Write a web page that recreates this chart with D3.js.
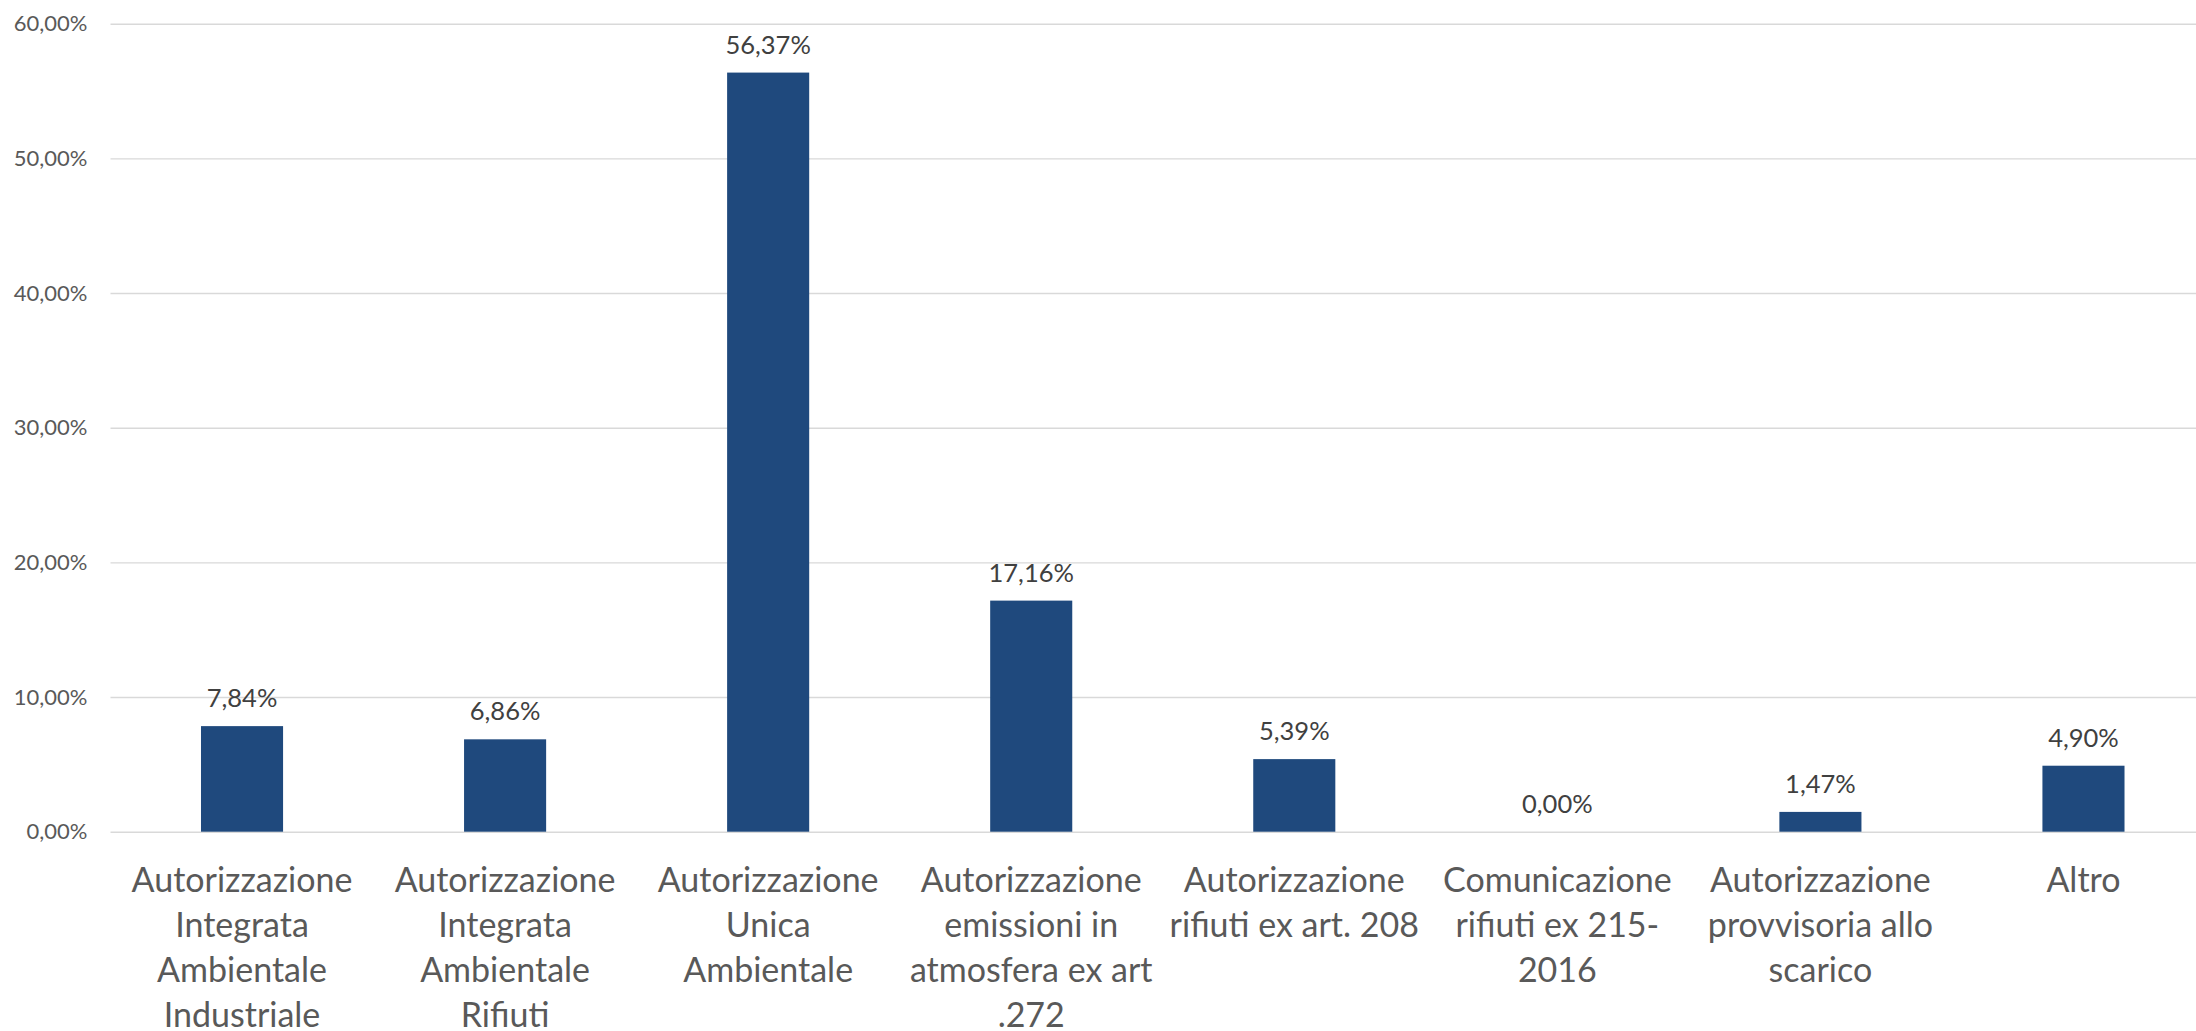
<!DOCTYPE html>
<html>
<head>
<meta charset="utf-8">
<script src="https://cdn.jsdelivr.net/npm/d3@7"></script>
<style>
  body { margin: 0; background: #fff; }
  svg text { font-family: Lato, "Noto Sans", sans-serif; }
</style>
</head>
<body>
<div id="chart"></div>
<script>
// categorie (etichette asse x, una riga per elemento)
const categorie = [
  "Autorizzazione Integrata Ambientale Industriale",
  "Autorizzazione Integrata Ambientale Rifiuti",
  "Autorizzazione Unica Ambientale",
  "Autorizzazione emissioni in atmosfera ex art .272",
  "Autorizzazione rifiuti ex art. 208",
  "Comunicazione rifiuti ex 215-2016",
  "Autorizzazione provvisoria allo scarico",
  "Altro"
];
const righeEtichette = [
  ["Autorizzazione", "Integrata", "Ambientale", "Industriale"],
  ["Autorizzazione", "Integrata", "Ambientale", "Rifiuti"],
  ["Autorizzazione", "Unica", "Ambientale"],
  ["Autorizzazione", "emissioni in", "atmosfera ex art", ".272"],
  ["Autorizzazione", "rifiuti ex art. 208"],
  ["Comunicazione", "rifiuti ex 215-", "2016"],
  ["Autorizzazione", "provvisoria allo", "scarico"],
  ["Altro"]
];
// percentuali
const valori = [7.84, 6.86, 56.37, 17.16, 5.39, 0.00, 1.47, 4.90];
const tickY = [0, 10, 20, 30, 40, 50, 60];

const svgWidth = 2196;
const svgHeight = 1031;
const margin = { top: 23.7, left: 110.5 };
const plotRight = 2215;   // l'area del grafico esce un po' dal bordo destro
const plotBottom = 831.7;

const fmt = v => d3.format(".2f")(v).replace(".", ",") + "%";

const svg = d3.select("#chart")
  .append("svg")
  .attr("width", svgWidth)
  .attr("height", svgHeight);

const xScale = d3.scaleBand()
  .domain(categorie)
  .range([margin.left, plotRight])
  .paddingInner(0.688)
  .paddingOuter(0.344);

const yScale = d3.scaleLinear()
  .domain([0, 60])
  .range([plotBottom, margin.top]);

// griglia + etichette asse y
const yAxis = svg.append("g")
  .attr("transform", `translate(${margin.left},0)`)
  .call(d3.axisLeft(yScale)
    .tickValues(tickY)
    .tickSize(-(svgWidth - margin.left))
    .tickPadding(23)
    .tickFormat(fmt));
yAxis.select(".domain").remove();
yAxis.selectAll(".tick line")
  .attr("stroke", "#d9d9d9")
  .attr("stroke-width", 1.4);
yAxis.selectAll(".tick text")
  .attr("fill", "#595959")
  .style("font-size", "22px");

// barre
svg.selectAll(".bar")
  .data(valori)
  .enter().append("rect")
  .attr("class", "bar")
  .attr("x", (d, i) => xScale(categorie[i]))
  .attr("y", d => yScale(d))
  .attr("width", xScale.bandwidth())
  .attr("height", d => plotBottom - yScale(d))
  .attr("fill", "#1f497d");

// etichette dati
svg.selectAll(".lbl")
  .data(valori)
  .enter().append("text")
  .attr("class", "lbl")
  .attr("x", (d, i) => xScale(categorie[i]) + xScale.bandwidth() / 2)
  .attr("y", d => yScale(d) - 19)
  .attr("text-anchor", "middle")
  .attr("fill", "#404040")
  .style("font-size", "25.5px")
  .text(d => fmt(d));

// etichette asse x su più righe
const xLabels = svg.selectAll(".xlab")
  .data(categorie)
  .enter().append("text")
  .attr("class", "xlab")
  .attr("text-anchor", "middle")
  .attr("fill", "#595959")
  .style("font-size", "34px")
  .attr("x", d => xScale(d) + xScale.bandwidth() / 2)
  .attr("y", plotBottom + 60);

xLabels.each(function (d, i) {
  const t = d3.select(this);
  const cx = xScale(d) + xScale.bandwidth() / 2;
  righeEtichette[i].forEach((riga, j) => {
    t.append("tspan")
      .attr("x", cx)
      .attr("y", plotBottom + 60 + j * 45)
      .text(riga);
  });
});
</script>
</body>
</html>
